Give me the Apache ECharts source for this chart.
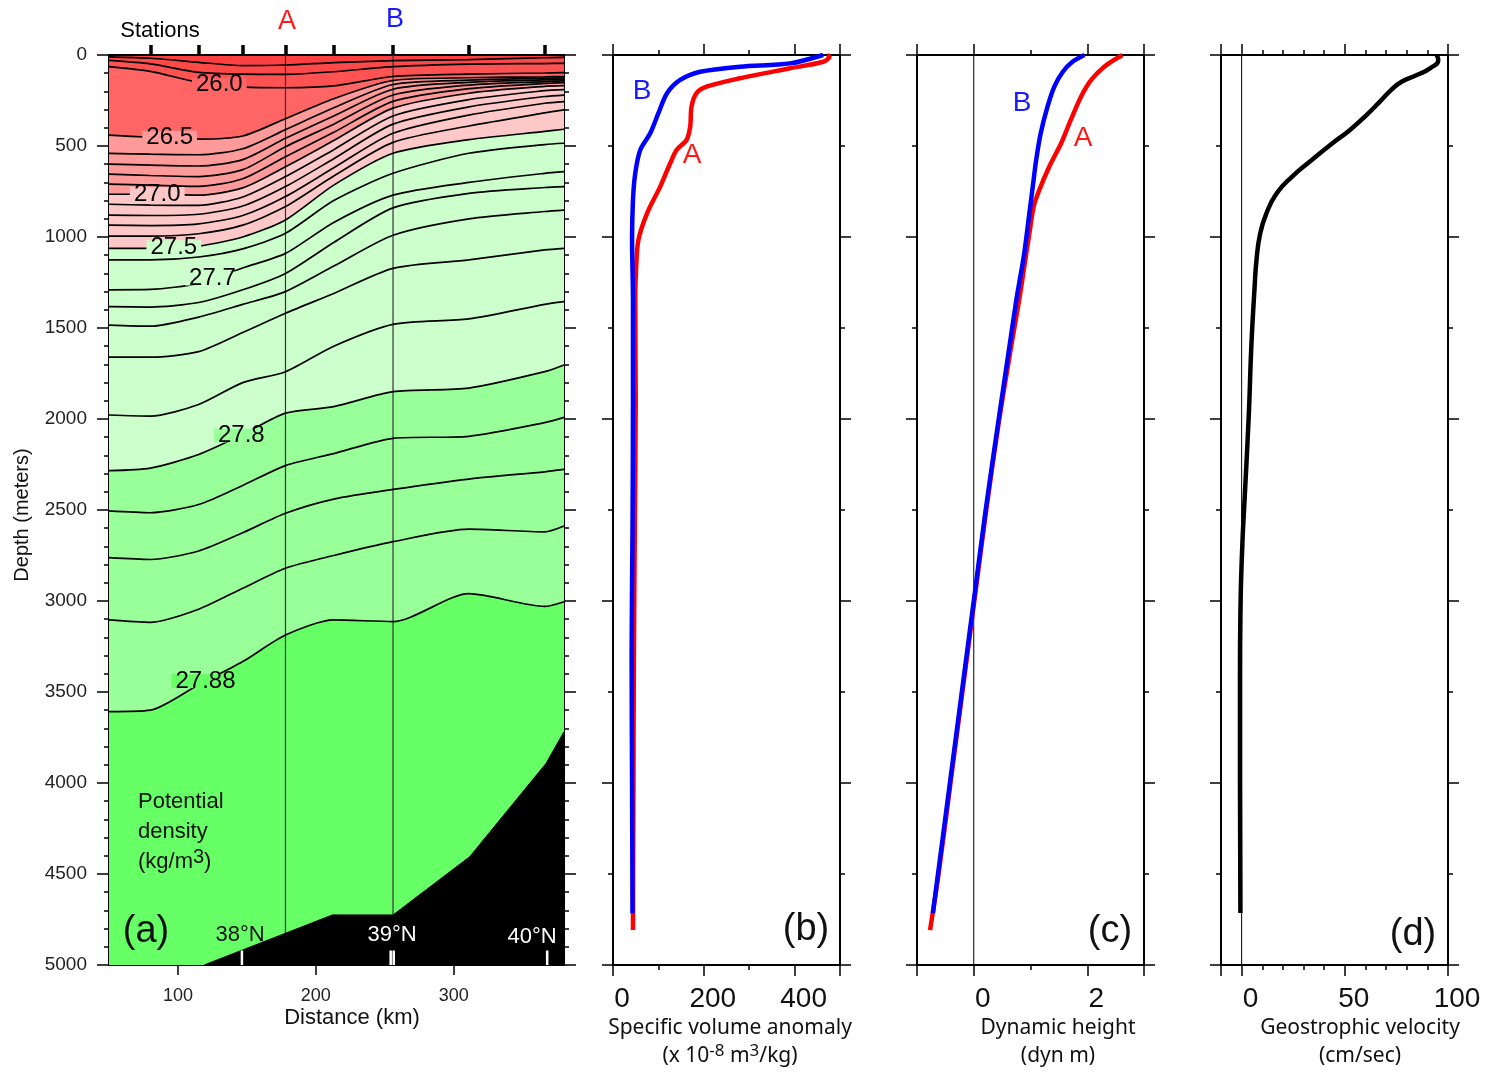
<!DOCTYPE html>
<html>
<head>
<meta charset="utf-8">
<title>Density section, dynamic height and geostrophic velocity</title>
<script src="https://cdn.jsdelivr.net/npm/echarts@6/dist/echarts.min.js"></script>
<style>
  html, body { margin: 0; padding: 0; background: #fff; }
  #main { width: 1485px; height: 1073px; }
</style>
</head>
<body>
<div id="main"></div>
<script>
// ---- panel (a): depth (m) of each isopycnal at the distance nodes (km)
var distNodes = [50, 80, 115, 147, 178, 213, 256, 311, 366, 380];
var sig2500 = [10, 18, 40, 58, 55, 42, 31, 25, 15, 13];
var sig2550 = [30, 49, 95, 105, 106, 92, 64, 50, 47, 46];
var sig2600 = [64, 90, 150, 175, 180, 170, 118, 105, 99, 97];
var sig2650 = [440, 452, 462, 445, 350, 240, 140, 125, 120, 118];
var sig2660 = [540, 545, 548, 515, 410, 290, 162, 138, 128, 126];
var sig2670 = [600, 605, 610, 575, 458, 335, 188, 150, 137, 134];
var sig2680 = [655, 662, 668, 630, 504, 380, 220, 165, 146, 142];
var sig2690 = [710, 715, 722, 680, 559, 425, 255, 185, 156, 152];
var sig2700 = [765, 765, 770, 730, 614, 470, 292, 210, 172, 168];
var sig2710 = [820, 825, 826, 780, 668, 520, 335, 245, 196, 190];
var sig2720 = [880, 882, 875, 830, 723, 570, 380, 285, 228, 220];
var sig2730 = [935, 937, 928, 882, 778, 620, 430, 330, 265, 256];
var sig2740 = [995, 995, 982, 935, 833, 665, 480, 390, 318, 302];
var sig2750 = [1062, 1062, 1050, 1000, 906, 715, 540, 465, 420, 408];
var sig2760 = [1126, 1126, 1110, 1065, 980, 800, 650, 540, 492, 485];
var sig2770 = [1290, 1288, 1255, 1170, 1090, 920, 770, 700, 650, 641];
var sig2772 = [1383, 1385, 1360, 1290, 1200, 1030, 840, 760, 728, 723];
var sig2774 = [1484, 1490, 1440, 1370, 1300, 1160, 990, 900, 860, 852];
var sig2776 = [1660, 1660, 1630, 1525, 1419, 1310, 1172, 1126, 1071, 1062];
var sig2778 = [1978, 1984, 1920, 1800, 1740, 1600, 1480, 1450, 1370, 1355];
var sig2780 = [2284, 2270, 2195, 2085, 1968, 1932, 1850, 1830, 1740, 1703];
var sig2782 = [2505, 2515, 2470, 2365, 2256, 2190, 2106, 2095, 2020, 1991];
var sig2784 = [2762, 2772, 2725, 2625, 2518, 2440, 2387, 2330, 2290, 2277];
var sig2786 = [3104, 3117, 3045, 2930, 2820, 2750, 2674, 2605, 2620, 2588];
var sig2788 = [3608, 3600, 3460, 3333, 3187, 3104, 3113, 2960, 3030, 3004];

var levelNames = ['25.0', '25.5', '26.0', '26.5', '26.6', '26.7', '26.8', '26.9', '27.0',
  '27.1', '27.2', '27.3', '27.4', '27.5', '27.6', '27.7', '27.72', '27.74', '27.76',
  '27.78', '27.8', '27.82', '27.84', '27.86', '27.88'];
var levelDepths = [sig2500, sig2550, sig2600, sig2650, sig2660, sig2670, sig2680, sig2690,
  sig2700, sig2710, sig2720, sig2730, sig2740, sig2750, sig2760, sig2770, sig2772, sig2774,
  sig2776, sig2778, sig2780, sig2782, sig2784, sig2786, sig2788];

// labelled isopycnals
var labelLevels = ['26.0', '26.5', '27.0', '27.5', '27.7', '27.8', '27.88'];
var labelDist = [130, 94, 85, 97, 125, 146, 120];
var labelDepth = [163, 454, 765, 1056, 1228, 2090, 3440];

var stations = [80, 115, 147, 178, 213, 256, 311, 366];
var stationA = 178, stationB = 256;

var bathyDist = [119, 147, 212, 256, 311.6, 367, 380];
var bathyDepth = [5000, 4917, 4725, 4725, 4405, 3892, 3718];
var latTickDist = [146.4, 254.3, 256.5, 367.8];

// ---- panel (b): specific volume anomaly (x1e-8 m3/kg)
var depthSvaA = [0, 9, 37, 73, 128, 174, 210, 284, 394, 467, 522, 595, 723, 870, 1016, 1163, 1346, 1900, 2600, 3300, 4000, 4808];
var svaA = [472, 477, 463, 390, 280, 206, 184, 173, 170, 162, 140, 126, 104, 75, 56, 51, 49, 50, 48, 46, 45, 44];
var depthSvaB = [0, 46, 64, 92, 137, 210, 320, 430, 522, 650, 797, 1016, 1346, 1900, 2600, 3300, 4000, 4716];
var svaB = [463, 390, 280, 192, 148, 119, 100, 82, 60, 49, 44, 42, 44, 44, 43, 41, 42, 43];

// ---- panel (c): dynamic height (dyn m)
var depthDynA = [0, 64, 137, 229, 357, 485, 614, 742, 833, 980, 1163, 1346, 1600, 2000, 2500, 3000, 3500, 4000, 4500, 4808];
var dynA = [2.62, 2.30, 2.07, 1.89, 1.71, 1.54, 1.33, 1.155, 1.056, 0.98, 0.89, 0.80, 0.66, 0.45, 0.22, 0.01, -0.20, -0.41, -0.62, -0.77];
var depthDynB = [0, 37, 92, 174, 284, 430, 577, 723, 870, 1090, 1255, 1346, 1600, 2000, 2500, 3000, 3500, 4000, 4500, 4716];
var dynB = [1.95, 1.74, 1.57, 1.42, 1.30, 1.18, 1.10, 1.04, 0.98, 0.89, 0.80, 0.75, 0.63, 0.44, 0.21, 0.0, -0.21, -0.42, -0.63, -0.72];

// ---- panel (d): geostrophic velocity (cm/s)
var depthVel = [0, 27, 73, 110, 147, 192, 256, 330, 412, 485, 577, 668, 760, 870, 980, 1126, 1273, 1600, 1969, 2427, 2702, 3068, 3434, 4000, 4714];
var geoVel = [94.5, 95.3, 91.3, 84.9, 77.5, 72.5, 67, 60.5, 52.5, 44, 34, 24.5, 17, 12, 9, 7.2, 6.3, 4.7, 3.5, 1.5, 0.3, -0.6, -0.8, -0.8, -0.6];

// ------------------------------------------------------------------
var surfaceColor = '#ff4040';
var bandColor = { '25.0': '#ff4848', '25.5': '#ff5252', '26.0': '#ff6565', '26.5': '#ff9a9a',
  '27.0': '#ffc8c8', '27.5': '#ccffcc', '27.8': '#99ff99', '27.88': '#66ff66' };
var fontH = '"Liberation Sans", Arial, Helvetica, sans-serif';
var fontT = '"Noto Sans", "Open Sans", sans-serif';
var contourSmooth = 0.25;

function bandBelow(name) {
  var v = parseFloat(name), best = surfaceColor, bv = -1;
  for (var k in bandColor) {
    var kv = parseFloat(k);
    if (kv <= v + 1e-9 && kv > bv) { bv = kv; best = bandColor[k]; }
  }
  return best;
}
function pairs(xs, ys) { return xs.map(function (x, i) { return [x, ys[i]]; }); }
function pairsYX(depths, vals) { return depths.map(function (d, i) { return [vals[i], d]; }); }
function plain(v) { return String(v); }

function frameLine() { return { show: true, onZero: false, lineStyle: { color: '#000', width: 2 } }; }
var tickStyle = { color: '#000', width: 1.5 };

function profX(grid, pos, min, max, interval, longTicks, labels) {
  return [{
    type: 'value', gridIndex: grid, position: pos, min: min, max: max,
    axisLine: frameLine(),
    axisTick: { show: true, customValues: longTicks, length: 11, lineStyle: tickStyle },
    axisLabel: labels ? { show: true, customValues: labels, formatter: plain, fontSize: 28, fontFamily: fontH,
      color: '#111', margin: 20, padding: [0, 0, 0, 18] } : { show: false },
    splitLine: { show: false }
  }, {
    type: 'value', gridIndex: grid, position: pos, min: min, max: max, interval: interval,
    axisLine: { show: false, onZero: false },
    axisTick: { show: true, length: 5, lineStyle: tickStyle },
    axisLabel: { show: false }, splitLine: { show: false }
  }];
}
function profY(grid, pos) {
  return {
    type: 'value', gridIndex: grid, position: pos, min: 0, max: 5000, interval: 1000, inverse: true,
    axisLine: frameLine(),
    axisTick: { show: true, length: 11, lineStyle: tickStyle },
    minorTick: { show: true, splitNumber: 2, length: 5, lineStyle: tickStyle },
    axisLabel: { show: false }, splitLine: { show: false }
  };
}
function sectionY(pos, label) {
  return {
    type: 'value', gridIndex: 0, position: pos, min: 0, max: 5000, interval: 500, inverse: true,
    axisLine: frameLine(),
    axisTick: { show: true, length: 12, lineStyle: tickStyle },
    minorTick: { show: true, splitNumber: 5, length: 5, lineStyle: tickStyle },
    axisLabel: label ? { show: true, formatter: plain, fontSize: 19, fontFamily: fontH, color: '#222', margin: 22 } : { show: false },
    splitLine: { show: false }
  };
}

var xAxes = [
  { type: 'value', gridIndex: 0, position: 'bottom', min: 50, max: 380,
    axisLine: frameLine(),
    axisTick: { show: true, customValues: [100, 200, 300], length: 10, lineStyle: tickStyle },
    axisLabel: { show: true, customValues: [100, 200, 300], formatter: plain, fontSize: 18, fontFamily: fontH, color: '#222', margin: 22 },
    splitLine: { show: false } },
  { type: 'value', gridIndex: 0, position: 'top', min: 50, max: 380,
    axisLine: frameLine(),
    axisTick: { show: true, customValues: stations, length: 10, lineStyle: { color: '#000', width: 3.5 } },
    axisLabel: { show: false }, splitLine: { show: false } }
];
xAxes = xAxes
  .concat(profX(1, 'bottom', 0, 500, 100, [0, 200, 400, 500], [0, 200, 400]))
  .concat(profX(1, 'top', 0, 500, 100, [0, 200, 400, 500], null))
  .concat(profX(2, 'bottom', -1, 3, 1, [-1, 0, 2, 3], [0, 2]))
  .concat(profX(2, 'top', -1, 3, 1, [-1, 0, 2, 3], null))
  .concat(profX(3, 'bottom', -10, 100, 10, [-10, 0, 50, 100], [0, 50, 100]))
  .concat(profX(3, 'top', -10, 100, 10, [-10, 0, 50, 100], null));

var yAxes = [sectionY('left', true), sectionY('right', false),
  profY(1, 'left'), profY(1, 'right'), profY(2, 'left'), profY(2, 'right'),
  profY(3, 'left'), profY(3, 'right')];

var series = [];
// filled density bands (each fills from its isopycnal down to the bottom)
levelNames.forEach(function (name, k) {
  if (!bandColor[name]) return;
  series.push({
    type: 'line', xAxisIndex: 0, yAxisIndex: 0, z: 1, silent: true, symbol: 'none', smooth: contourSmooth,
    data: pairs(distNodes, levelDepths[k]),
    lineStyle: { width: 0 },
    areaStyle: { color: bandColor[name], opacity: 1, origin: 'end' }
  });
});
// station A and B verticals
[stationA, stationB].forEach(function (s) {
  series.push({
    type: 'line', xAxisIndex: 0, yAxisIndex: 0, z: 2, silent: true, symbol: 'none',
    data: [[s, 0], [s, 5000]], lineStyle: { color: '#333', width: 1.2 }
  });
});
// isopycnals
levelNames.forEach(function (name, k) {
  series.push({
    type: 'line', xAxisIndex: 0, yAxisIndex: 0, z: 3, silent: true, symbol: 'none', smooth: contourSmooth,
    data: pairs(distNodes, levelDepths[k]),
    lineStyle: { color: '#000', width: 1.7 }
  });
});
// bottom topography
series.push({
  type: 'line', xAxisIndex: 0, yAxisIndex: 0, z: 4, silent: true, symbol: 'none',
  data: pairs(bathyDist, bathyDepth),
  lineStyle: { color: '#000', width: 1 },
  areaStyle: { color: '#000', opacity: 1, origin: 'end' }
});
// latitude ticks along the bottom
latTickDist.forEach(function (d) {
  series.push({
    type: 'line', xAxisIndex: 0, yAxisIndex: 0, z: 5, silent: true, symbol: 'none',
    data: [[d, 5000], [d, 4920]], lineStyle: { color: '#fff', width: 2.5 }
  });
});
// contour labels
series.push({
  type: 'scatter', xAxisIndex: 0, yAxisIndex: 0, z: 6, silent: true,
  symbolSize: 1, itemStyle: { color: 'rgba(0,0,0,0)' },
  data: labelLevels.map(function (name, i) {
    return { name: name, value: [labelDist[i], labelDepth[i]],
      label: { backgroundColor: bandBelow(name) } };
  }),
  label: { show: true, position: 'inside', formatter: '{b}', fontSize: 24, fontFamily: fontH,
    color: '#000', opacity: 1, lineHeight: 14, padding: [0, 4] }
});

// (b) specific volume anomaly
series.push({ type: 'line', xAxisIndex: 2, yAxisIndex: 2, symbol: 'none', smooth: 0.3, silent: true,
  data: pairsYX(depthSvaA, svaA), lineStyle: { color: '#ff0000', width: 4.5 } });
series.push({ type: 'line', xAxisIndex: 2, yAxisIndex: 2, symbol: 'none', smooth: 0.3, silent: true,
  data: pairsYX(depthSvaB, svaB), lineStyle: { color: '#0000ff', width: 4.5 } });

// (c) dynamic height
series.push({ type: 'line', xAxisIndex: 6, yAxisIndex: 4, symbol: 'none', silent: true,
  data: [[0, 0], [0, 5000]], lineStyle: { color: '#000', width: 1 } });
series.push({ type: 'line', xAxisIndex: 6, yAxisIndex: 4, symbol: 'none', smooth: 0.3, silent: true,
  data: pairsYX(depthDynA, dynA), lineStyle: { color: '#ff0000', width: 4.5 } });
series.push({ type: 'line', xAxisIndex: 6, yAxisIndex: 4, symbol: 'none', smooth: 0.3, silent: true,
  data: pairsYX(depthDynB, dynB), lineStyle: { color: '#0000ff', width: 4.5 } });

// (d) geostrophic velocity
series.push({ type: 'line', xAxisIndex: 10, yAxisIndex: 6, symbol: 'none', silent: true,
  data: [[0, 0], [0, 5000]], lineStyle: { color: '#000', width: 1 } });
series.push({ type: 'line', xAxisIndex: 10, yAxisIndex: 6, symbol: 'none', smooth: 0.5, silent: true,
  data: pairsYX(depthVel, geoVel), lineStyle: { color: '#000', width: 4.5 } });

function txt(x, y, text, size, color, opts) {
  var st = { text: text, fontSize: size, fontFamily: (opts && opts.family) || fontH,
    fill: color || '#000', align: (opts && opts.align) || 'center', verticalAlign: 'middle' };
  if (opts && opts.rich) st.rich = opts.rich;
  return { type: 'text', x: x, y: y, rotation: (opts && opts.rotation) || 0, z: 100, style: st };
}
var supRich = {
  n: { fontSize: 21, fontFamily: fontT, fill: '#111', lineHeight: 26 },
  s: { fontSize: 17, fontFamily: fontT, fill: '#111', lineHeight: 17, verticalAlign: 'top' }
};
var supRichH = {
  n: { fontSize: 22, fontFamily: fontH, fill: '#111', lineHeight: 30 },
  s: { fontSize: 20, fontFamily: fontH, fill: '#111', lineHeight: 18, verticalAlign: 'top' }
};

var graphics = [
  txt(160, 31, 'Stations', 22, '#000'),
  txt(287, 22, 'A', 27, '#ff1a1a'),
  txt(395, 20, 'B', 27, '#1a1aff'),
  txt(22, 515, 'Depth (meters)', 20, '#111', { rotation: Math.PI / 2 }),
  txt(352, 1018, 'Distance (km)', 22, '#111'),
  txt(138, 832, '{n|Potential}\n{n|density}\n{n|(kg/m}{s|3}{n|)}', 22, '#111', { align: 'left', rich: supRichH }),
  txt(146, 932, '(a)', 38, '#111'),
  txt(240, 935, '38°N', 22, '#111'),
  txt(392, 935, '39°N', 22, '#fff'),
  txt(532, 937, '40°N', 22, '#fff'),
  txt(642, 91, 'B', 28, '#1a1aff'),
  txt(692, 155, 'A', 28, '#ff1a1a'),
  txt(806, 930, '(b)', 38, '#111'),
  txt(1022, 103, 'B', 28, '#1a1aff'),
  txt(1083, 138, 'A', 28, '#ff1a1a'),
  txt(1110, 932, '(c)', 38, '#111'),
  txt(1413, 935, '(d)', 38, '#111'),
  txt(730, 1028, 'Specific volume anomaly', 21, '#111', { family: fontT }),
  txt(730, 1056, '{n|(x 10}{s|-8}{n| m}{s|3}{n|/kg)}', 21, '#111', { rich: supRich }),
  txt(1058, 1028, 'Dynamic height', 21, '#111', { family: fontT }),
  txt(1058, 1056, '(dyn m)', 21, '#111', { family: fontT }),
  txt(1360, 1028, 'Geostrophic velocity', 21, '#111', { family: fontT }),
  txt(1360, 1056, '(cm/sec)', 21, '#111', { family: fontT })
];

var chart = echarts.init(document.getElementById('main'));
chart.setOption({
  animation: false,
  backgroundColor: '#fff',
  grid: [
    { left: 109, top: 55, width: 455, height: 910, show: true, backgroundColor: surfaceColor, borderWidth: 0 },
    { left: 613, top: 55, width: 227, height: 910 },
    { left: 917, top: 55, width: 227, height: 910 },
    { left: 1221, top: 55, width: 227, height: 910 }
  ],
  xAxis: xAxes,
  yAxis: yAxes,
  series: series,
  graphic: graphics
});
</script>
</body>
</html>
